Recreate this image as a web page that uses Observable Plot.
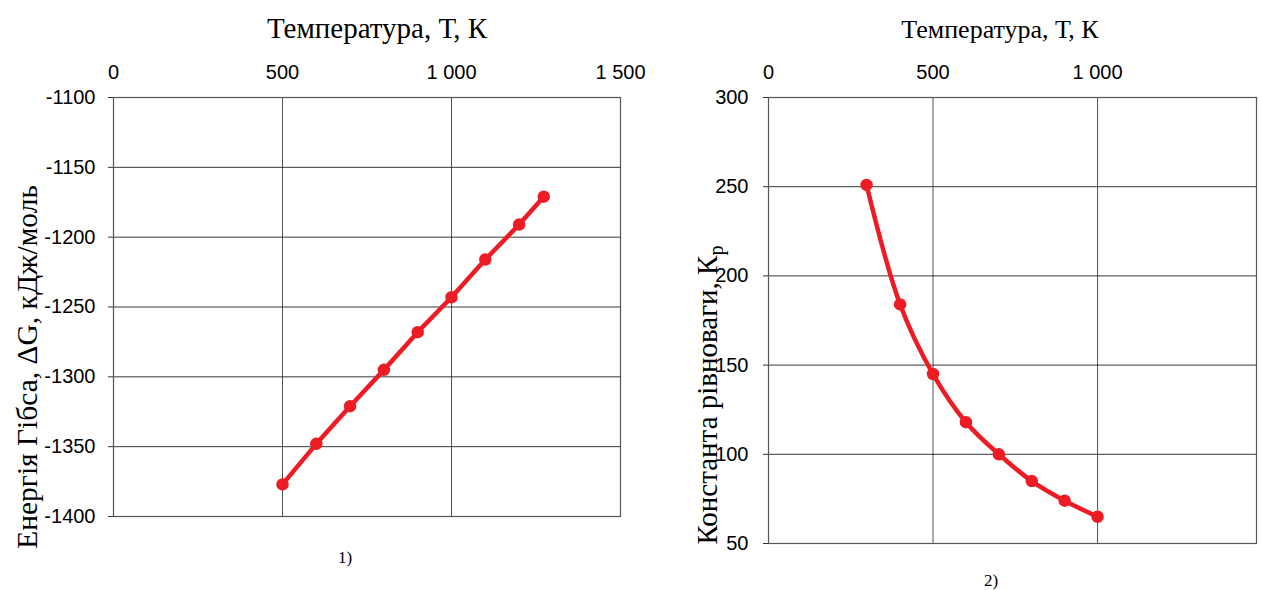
<!DOCTYPE html>
<html>
<head>
<meta charset="utf-8">
<script src="https://cdn.jsdelivr.net/npm/d3@7"></script>
<script src="https://cdn.jsdelivr.net/npm/@observablehq/plot@0.6"></script>
<style>
  html, body { margin: 0; padding: 0; background: #fff; }
  #wrap { position: relative; width: 1261px; height: 590px; overflow: hidden; background: #fff; }
  #wrap svg { position: absolute; top: 0; overflow: visible; }
  .lbl { position: absolute; font-family: "Liberation Serif", "Times New Roman", serif; color: #000; white-space: nowrap; transform: translate(-50%, -50%); line-height: 1; }
  .rot { transform: translate(-50%, -50%) rotate(-90deg); }
</style>
</head>
<body>
<div id="wrap"></div>
<script>
// Chart 1: Gibbs energy vs temperature
const tempG = [500, 600, 700, 800, 900, 1000, 1100, 1200, 1273];
const gibbs = [-1377, -1348, -1321, -1295, -1268, -1243, -1216, -1191, -1171];
const xTicks1 = [0, 500, 1000, 1500];
const yTicks1 = [-1100, -1150, -1200, -1250, -1300, -1350, -1400];

// Chart 2: equilibrium constant vs temperature
const tempK = [298, 400, 500, 600, 700, 800, 900, 1000];
const kp = [251, 184, 145, 118, 100, 85, 74, 65];
const xTicks2 = [0, 500, 1000];
const yTicks2 = [50, 100, 150, 200, 250, 300];

const red = "#ed1c24";
const fmtX = d => String(d).replace(/\B(?=(\d{3})+(?!\d))/g, " ");
const fmtY = d => String(d);

const data1 = tempG.map((t, i) => ({t, v: gibbs[i]}));
const data2 = tempK.map((t, i) => ({t, v: kp[i]}));

const common = {
  style: {fontFamily: "'Liberation Sans', Arial, sans-serif", fontSize: "20px", color: "#000", background: "transparent", overflow: "visible"}
};

const p1 = Plot.plot({
  ...common,
  width: 700, height: 590,
  marginLeft: 113, marginRight: 80, marginTop: 97, marginBottom: 74,
  x: {domain: [0, 1500], ticks: xTicks1, tickFormat: fmtX},
  y: {domain: [-1400, -1100], ticks: yTicks1, tickFormat: fmtY},
  marks: [
    Plot.gridX(xTicks1, {stroke: "#333", strokeOpacity: 0.85, strokeWidth: 1}),
    Plot.gridY(yTicks1, {stroke: "#222", strokeOpacity: 0.9, strokeWidth: 1}),
    Plot.frame({stroke: "#555", strokeWidth: 1.2}),
    Plot.axisX(xTicks1, {anchor: "top", tickSize: 0, tickPadding: 19, label: null, tickFormat: fmtX}),
    Plot.axisY(yTicks1, {anchor: "left", tickSize: 5, tickPadding: 13, label: null, tickFormat: fmtY, stroke: "#333"}),
    Plot.line(data1, {x: "t", y: "v", stroke: red, strokeWidth: 4.5}),
    Plot.dot(data1, {x: "t", y: "v", r: 5.5, fill: red, stroke: red})
  ]
});
p1.style.left = "0px";

const p2 = Plot.plot({
  ...common,
  width: 621, height: 590,
  marginLeft: 128, marginRight: 5, marginTop: 97, marginBottom: 47,
  x: {domain: [0, 1483], ticks: xTicks2, tickFormat: fmtX},
  y: {domain: [50, 300], ticks: yTicks2, tickFormat: fmtY},
  marks: [
    Plot.gridX(xTicks2, {stroke: "#333", strokeOpacity: 0.85, strokeWidth: 1}),
    Plot.gridY(yTicks2, {stroke: "#222", strokeOpacity: 0.9, strokeWidth: 1}),
    Plot.frame({stroke: "#555", strokeWidth: 1.2}),
    Plot.axisX(xTicks2, {anchor: "top", tickSize: 0, tickPadding: 19, label: null, tickFormat: fmtX}),
    Plot.axisY(yTicks2, {anchor: "left", tickSize: 5, tickPadding: 15, label: null, tickFormat: fmtY, stroke: "#333"}),
    Plot.line(data2, {x: "t", y: "v", stroke: red, strokeWidth: 4.5, curve: "catmull-rom"}),
    Plot.dot(data2, {x: "t", y: "v", r: 5.5, fill: red, stroke: red})
  ]
});
p2.style.left = "640px";

const wrap = document.getElementById("wrap");
wrap.appendChild(p1);
wrap.appendChild(p2);

function label(html, x, y, size, rot) {
  const d = document.createElement("div");
  d.className = "lbl" + (rot ? " rot" : "");
  d.style.left = x + "px";
  d.style.top = y + "px";
  d.style.fontSize = size + "px";
  d.innerHTML = html;
  wrap.appendChild(d);
}
label("Температура, Т, К", 377, 28, 29);
label("Температура, Т, К", 1000, 30, 26);
label("Енергія Гібса, ΔG, кДж/моль", 28, 367, 29.5, true);
label("Константа рівноваги, К<sub style='font-size:0.7em;line-height:0'>р</sub>", 707, 395, 29, true);
label("1)", 345, 557, 17);
label("2)", 991, 580, 17);
</script>
</body>
</html>
